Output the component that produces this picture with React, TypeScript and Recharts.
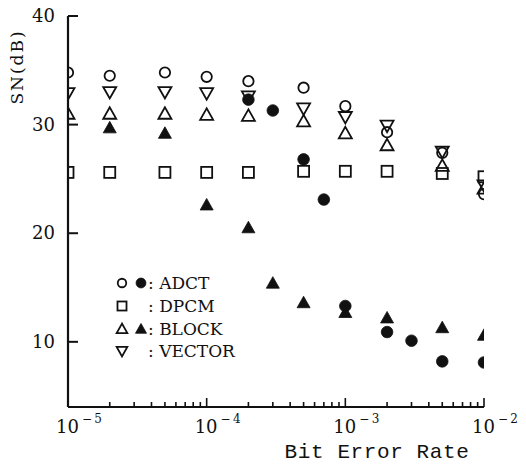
import { ScatterChart, Scatter, XAxis, YAxis, Legend } from 'recharts';

const INK = '#111';
const SERIF = '"DejaVu Serif", "Liberation Serif", serif';

// x positions (bit error rate)
const berFull = [1e-5, 2e-5, 5e-5, 1e-4, 2e-4, 5e-4, 1e-3, 2e-3, 5e-3, 1e-2];
const berAdctErr = [2e-4, 3e-4, 5e-4, 7e-4, 1e-3, 2e-3, 3e-3, 5e-3, 1e-2];
const berBlockErr = [2e-5, 5e-5, 1e-4, 2e-4, 3e-4, 5e-4, 1e-3, 2e-3, 5e-3, 1e-2];

// SN (dB) values
const adctOpen = [34.8, 34.5, 34.8, 34.4, 34.0, 33.4, 31.7, 29.3, 27.4, 23.6];
const adctFilled = [32.3, 31.3, 26.8, 23.1, 13.3, 10.9, 10.1, 8.2, 8.1];
const dpcm = [25.6, 25.6, 25.6, 25.6, 25.6, 25.7, 25.7, 25.7, 25.5, 25.2];
const blockOpen = [31.0, 31.0, 31.0, 30.9, 30.8, 30.3, 29.2, 28.1, 26.2, 24.1];
const blockFilled = [29.7, 29.2, 22.6, 20.5, 15.4, 13.6, 12.7, 12.2, 11.3, 10.6];
const vector = [32.9, 33.0, 33.0, 32.9, 32.6, 31.5, 30.7, 29.9, 27.5, 24.4];

const xDomain = [1e-5, 1e-2];
const yDomain = [4, 40];
const xTicks = [
  1e-5, 2e-5, 3e-5, 4e-5, 5e-5, 6e-5, 7e-5, 8e-5, 9e-5,
  1e-4, 2e-4, 3e-4, 4e-4, 5e-4, 6e-4, 7e-4, 8e-4, 9e-4,
  1e-3, 2e-3, 3e-3, 4e-3, 5e-3, 6e-3, 7e-3, 8e-3, 9e-3,
  1e-2,
];
const yTicks = [10, 20, 30, 40];

const legendLabels = ['ADCT', 'DPCM', 'BLOCK', 'VECTOR'];

const toPoints = (xs: number[], ys: number[]) => xs.map((x, i) => ({ x, y: ys[i] }));

type Kind = 'circle' | 'square' | 'up' | 'down';

function Marker({ kind, filled, cx, cy, s = 1 }: { kind: Kind; filled?: boolean; cx: number; cy: number; s?: number }) {
  const fill = filled ? INK : 'none';
  const sw = filled ? 0.8 : 1.8;
  const h = 6.5 * s;
  const b = 5 * s;
  if (kind === 'circle') {
    return <circle cx={cx} cy={cy} r={(filled ? 5.8 : 5.2) * s} fill={fill} stroke={INK} strokeWidth={sw} />;
  }
  if (kind === 'square') {
    const w = 11 * s;
    return <rect x={cx - w / 2} y={cy - w / 2} width={w} height={w} fill={fill} stroke={INK} strokeWidth={sw} />;
  }
  if (kind === 'up') {
    return (
      <polygon
        points={`${cx},${cy - h} ${cx - h},${cy + b} ${cx + h},${cy + b}`}
        fill={fill}
        stroke={INK}
        strokeWidth={sw}
      />
    );
  }
  return (
    <polygon
      points={`${cx - h},${cy - b} ${cx + h},${cy - b} ${cx},${cy + h}`}
      fill={fill}
      stroke={INK}
      strokeWidth={sw}
    />
  );
}

const shapeOf = (kind: Kind, filled?: boolean) => (props: any) =>
  <Marker kind={kind} filled={filled} cx={props.cx} cy={props.cy} />;

const XTick = (props: any) => {
  const { x, y, payload } = props;
  const v = payload.value as number;
  const lg = Math.log10(v);
  const e = Math.round(lg);
  const major = Math.abs(lg - e) < 1e-6;
  return (
    <g>
      {v > xDomain[0] && (
        <line x1={x} y1={y} x2={x} y2={y - (major ? 9 : 5)} stroke={INK} strokeWidth={1.6} />
      )}
      {major && (
        <text x={x - 12} y={y + 26} fontFamily={SERIF} fontSize={18} fill={INK}>
          10
          <tspan dx={3} dy={-10} fontSize={12}>
            {'\u2212\u2009' + Math.abs(e)}
          </tspan>
        </text>
      )}
    </g>
  );
};

const YTick = (props: any) => {
  const { x, y, payload } = props;
  return (
    <g>
      <line x1={x} y1={y} x2={x + 10} y2={y} stroke={INK} strokeWidth={2} />
      <text x={x - 13} y={y} dy={6} textAnchor="end" fontFamily={SERIF} fontSize={18} fill={INK}>
        {payload.value}
      </text>
    </g>
  );
};

const legendIcons: [Kind, boolean][] = [
  ['circle', true],
  ['square', false],
  ['up', true],
  ['down', false],
];

const renderLegend = () => (
  <div style={{ fontFamily: SERIF, fontSize: 17, color: INK }}>
    {legendLabels.map((label, i) => (
      <div key={label} style={{ display: 'flex', alignItems: 'center', height: 22.7 }}>
        <svg width={34} height={20}>
          <Marker kind={legendIcons[i][0]} cx={8} cy={10} s={0.82} />
          {legendIcons[i][1] && <Marker kind={legendIcons[i][0]} filled cx={27} cy={10} s={0.85} />}
        </svg>
        <span style={{ whiteSpace: 'pre' }}>{': ' + label}</span>
      </div>
    ))}
  </div>
);

export default function App() {
  return (
    <div style={{ position: 'absolute', left: 0, top: 0, width: 526, height: 465, background: '#fff' }}>
      <ScatterChart width={526} height={465} margin={{ top: 16, right: 42, bottom: 0, left: 0 }}>
        <XAxis
          dataKey="x"
          type="number"
          scale="log"
          domain={xDomain}
          allowDataOverflow
          ticks={xTicks}
          interval={0}
          height={58}
          tickSize={0}
          tickMargin={0}
          tickLine={false}
          tick={XTick}
          axisLine={{ stroke: INK, strokeWidth: 2.2 }}
          label={() => (
            <text
              x={377}
              y={458}
              textAnchor="middle"
              fontFamily='"Liberation Mono", monospace'
              fontSize={21}
              letterSpacing={0.6}
              fill={INK}
            >
              Bit Error Rate
            </text>
          )}
        />
        <YAxis
          dataKey="y"
          type="number"
          domain={yDomain}
          allowDataOverflow
          ticks={yTicks}
          interval={0}
          width={68}
          tickSize={0}
          tickMargin={0}
          tickLine={false}
          tick={YTick}
          axisLine={{ stroke: INK, strokeWidth: 2.2 }}
          label={() => (
            <text
              x={17}
              y={67}
              transform="rotate(-90 17 67)"
              textAnchor="middle"
              dominantBaseline="central"
              fontFamily={SERIF}
              fontSize={17}
              letterSpacing={2}
              fill={INK}
            >
              SN(dB)
            </text>
          )}
        />
        <Legend
          layout="vertical"
          align="center"
          verticalAlign="middle"
          content={renderLegend}
          wrapperStyle={{ left: 114, top: 272, width: 'auto' }}
        />
        <Scatter data={toPoints(berFull, dpcm)} shape={shapeOf('square')} isAnimationActive={false} />
        <Scatter data={toPoints(berFull, blockOpen)} shape={shapeOf('up')} isAnimationActive={false} />
        <Scatter data={toPoints(berFull, vector)} shape={shapeOf('down')} isAnimationActive={false} />
        <Scatter data={toPoints(berFull, adctOpen)} shape={shapeOf('circle')} isAnimationActive={false} />
        <Scatter data={toPoints(berBlockErr, blockFilled)} shape={shapeOf('up', true)} isAnimationActive={false} />
        <Scatter data={toPoints(berAdctErr, adctFilled)} shape={shapeOf('circle', true)} isAnimationActive={false} />
      </ScatterChart>
    </div>
  );
}
